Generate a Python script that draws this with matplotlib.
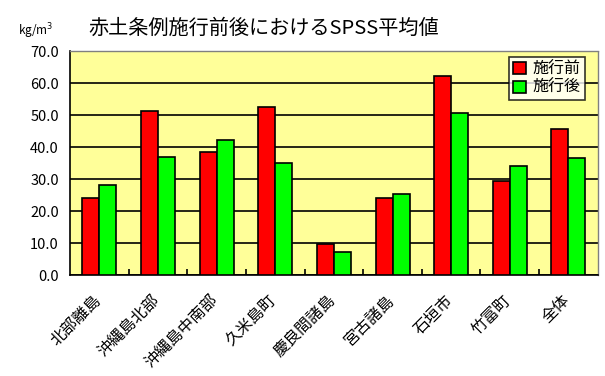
import matplotlib
matplotlib.use('Agg')
import matplotlib.pyplot as plt
import matplotlib.transforms as mtransforms
import numpy as np

plt.rcParams['font.family'] = ['Noto Sans CJK JP', 'DejaVu Sans']

areas = ['北部離島', '沖縄島北部', '沖縄島中南部', '久米島町', '慶良間諸島',
         '宮古諸島', '石垣市', '竹富町', '全体']
before = [24.0, 51.2, 38.6, 52.5, 9.6, 24.0, 62.3, 29.3, 45.5]
after = [28.1, 36.8, 42.3, 34.9, 7.1, 25.2, 50.5, 34.0, 36.6]
yticks = np.arange(0, 71, 10)

fig = plt.figure(figsize=(6.05, 3.76), dpi=100)
ax = fig.add_axes([0.1157, 0.2686, 0.8723, 0.5954])
ax.set_facecolor('#FFFF99')

x = np.arange(len(areas))
w = 0.29
ax.bar(x - w / 2, before, w, color='#FF0000', edgecolor='black', linewidth=1.2,
       label='施行前', zorder=3)
ax.bar(x + w / 2, after, w, color='#00FF00', edgecolor='black', linewidth=1.2,
       label='施行後', zorder=3)

ax.set_xlim(-0.5, len(areas) - 0.5)
ax.set_ylim(0, 70)
ax.set_yticks(yticks)
ax.set_yticklabels(['%.1f' % v for v in yticks], fontsize=10.5)
ax.tick_params(axis='y', length=0, pad=8)
ax.yaxis.grid(True, color='black', linewidth=1.2, zorder=1)

ax.set_xticks(x)
ax.set_xticklabels(areas, rotation=45, ha='right', rotation_mode='anchor',
                   fontsize=11.5)
ax.tick_params(axis='x', length=0, pad=12)
shift = mtransforms.ScaledTranslation(-7 / 100, 0, fig.dpi_scale_trans)
for lab in ax.get_xticklabels():
    lab.set_transform(lab.get_transform() + shift)
ax.set_xticks(np.arange(0.5, len(areas) - 0.5, 1), minor=True)
ax.tick_params(axis='x', which='minor', direction='in', length=4, width=1.2)

for s in ['left', 'bottom']:
    ax.spines[s].set_color('black')
    ax.spines[s].set_linewidth(1.2)
for s in ['top', 'right']:
    ax.spines[s].set_color('gray')
    ax.spines[s].set_linestyle((0, (1, 1)))
    ax.spines[s].set_linewidth(1)

leg = ax.legend(loc='upper right', bbox_to_anchor=(0.975, 0.975), fontsize=11.5,
                frameon=True, fancybox=False, edgecolor='black',
                handlelength=0.8, handleheight=0.8, handletextpad=0.4,
                borderpad=0.25, labelspacing=0.1, borderaxespad=0)
leg.get_frame().set_linewidth(1.2)

fig.text(0.436, 0.925, '赤土条例施行前後におけるSPSS平均値', ha='center',
         va='center', fontsize=14.5)
fig.text(0.03, 0.918, 'kg/m$^3$', ha='left', va='center', fontsize=8.5)

fig.savefig('out.png', dpi=100)
